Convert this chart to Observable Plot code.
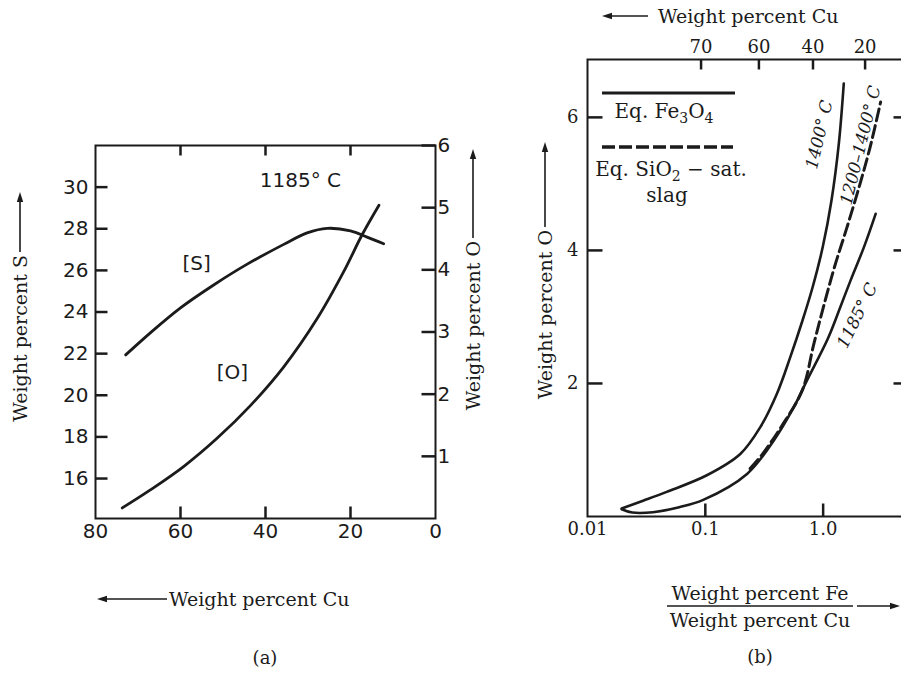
<!DOCTYPE html>
<html>
<head>
<meta charset="utf-8">
<script src="https://cdn.jsdelivr.net/npm/d3@7"></script>
<script src="https://cdn.jsdelivr.net/npm/@observablehq/plot@0.6"></script>
<style>
  html, body { margin: 0; padding: 0; background: #fff; overflow: hidden; }
  #wrap { position: relative; width: 901px; height: 675px; overflow: hidden; background: #fff; }
  #pa { position: absolute; left: 0; top: 0; width: 520px; height: 675px; }
  #pb { position: absolute; left: 520px; top: 0; width: 400px; height: 675px; }
  svg { max-width: none !important; display: block; }
</style>
</head>
<body>
<div id="wrap"><div id="pa"></div><div id="pb"></div></div>
<script>
// ---------------- Panel (a): 1185 °C, S and O vs Cu ----------------
const cuS = [72.9, 67.1, 60.0, 52.2, 44.3, 35.7, 30.2, 25.5, 20.0, 16.1, 12.2];
const sS  = [21.94, 23.0, 24.2, 25.3, 26.3, 27.25, 27.8, 28.02, 27.9, 27.6, 27.28];
const cuO = [73.7, 67.1, 59.2, 51.4, 43.5, 35.7, 27.8, 21.6, 17.3, 13.3];
const oO  = [0.17, 0.46, 0.84, 1.29, 1.82, 2.44, 3.22, 3.97, 4.56, 5.04];
const cuTicksA = [80, 60, 40, 20, 0];
const cuInnerTicksA = [60, 40, 20];
const sTicks = [16, 18, 20, 22, 24, 26, 28, 30];
const oTicksA = [1, 2, 3, 4, 5, 6];
const cuDomainA = [80, 0];
const sDomain = [14.08, 32];
const oDomainA = [0, 6];
const annTextA = ["1185° C", "[S]", "[O]"];
const annCuA = [31.8, 56.2, 47.8];
const annSA = [30.3, 26.35, 21.08];

// ---------------- Panel (b): O vs Fe/Cu ratio ----------------
const r1400 = [0.0195, 0.03, 0.047, 0.103, 0.198, 0.292, 0.406, 0.527, 0.669, 0.815, 0.992, 1.177, 1.358, 1.497];
const o1400 = [0.12, 0.24, 0.37, 0.62, 0.94, 1.34, 1.85, 2.40, 2.95, 3.45, 4.05, 4.75, 5.60, 6.51];
const r1185 = [0.0195, 0.024, 0.036, 0.06, 0.096, 0.226, 0.38, 0.562, 0.731, 1.10, 1.40, 1.71, 2.22, 2.79];
const o1185 = [0.11, 0.06, 0.065, 0.14, 0.25, 0.64, 1.14, 1.64, 2.05, 2.68, 3.15, 3.55, 4.05, 4.55];
const rDash = [0.24, 0.30, 0.445, 0.666, 0.835, 1.006, 1.248, 1.595, 2.017, 2.502, 3.074];
const oDash = [0.72, 0.92, 1.36, 1.90, 2.60, 3.15, 3.75, 4.35, 4.95, 5.55, 6.23];
const ratioDomain = [0.01, 5];
const oDomainB = [0, 6.87];
const ratioTicks = [0.01, 0.1, 1];
const ratioTickLabels = ["0.01", "0.1", "1.0"];
const ratioInnerTicks = [0.1, 1];
const oTicksB = [2, 4, 6];
const cuTopLabels = [70, 60, 40, 20];
const cuTopRatio = [0.092, 0.285, 0.82, 2.27];
const curveLabelsB = ["1400° C", "1200–1400° C", "1185° C"];
const curveLabelRatio = [0.93, 2.08, 1.95];
const curveLabelO = [5.74, 5.58, 3.02];

const ink = "#1b1b1b";
const serif = "'DejaVu Serif', serif";

function arrow(g, x1, y1, x2, y2) {
  const dx = x2 - x1, dy = y2 - y1, len = Math.hypot(dx, dy);
  const ux = dx / len, uy = dy / len, hl = 10, hw = 3.2;
  const bx = x2 - ux * hl, by = y2 - uy * hl;
  g.append("line").attr("x1", x1).attr("y1", y1).attr("x2", bx + ux * 2).attr("y2", by + uy * 2)
    .attr("stroke", ink).attr("stroke-width", 1.6);
  g.append("path")
    .attr("d", `M${x2},${y2}L${bx - uy * hw},${by + ux * hw}L${bx + uy * hw},${by - ux * hw}Z`)
    .attr("fill", ink);
}

// ---------- build panel (a) ----------
const A = {width: 520, height: 675, marginLeft: 95, marginRight: 85, marginTop: 145, marginBottom: 157};
const AW = A.width - A.marginLeft - A.marginRight, AH = A.height - A.marginTop - A.marginBottom;
const pxPerCu = AW / Math.abs(cuDomainA[0] - cuDomainA[1]);
const pxPerS = AH / (sDomain[1] - sDomain[0]);
const oToS = o => sDomain[0] + (o - oDomainA[0]) * (sDomain[1] - sDomain[0]) / (oDomainA[1] - oDomainA[0]);
const sData = cuS.map((c, i) => ({cu: c, v: sS[i]}));
const oData = cuO.map((c, i) => ({cu: c, v: oO[i]}));
const annA = annTextA.map((t, i) => ({t, cu: annCuA[i], s: annSA[i]}));
// inward tick segments (frame-edge value, pixel lengths converted to data units)
const ticksA = [
  ...cuInnerTicksA.map(v => ({x1: v, x2: v, y1: sDomain[0], y2: sDomain[0] + 12 / pxPerS})),
  ...cuInnerTicksA.map(v => ({x1: v, x2: v, y1: sDomain[1], y2: sDomain[1] - 10 / pxPerS})),
  ...sTicks.map(v => ({x1: cuDomainA[0], x2: cuDomainA[0] - 12 / pxPerCu, y1: v, y2: v})),
  ...oTicksA.map(v => ({x1: cuDomainA[1], x2: cuDomainA[1] + 14 / pxPerCu, y1: oToS(v), y2: oToS(v)}))
];

function decorA(index, scales, values, dim) {
  const L = dim.marginLeft, T = dim.marginTop, R = dim.width - dim.marginRight, B = dim.height - dim.marginBottom;
  const g = d3.create("svg:g").attr("fill", ink).attr("font-family", serif).attr("font-size", 19).attr("text-anchor", "start");
  g.append("text").attr("transform", `translate(${L - 75},${T + 110}) rotate(-90)`)
    .attr("text-anchor", "end").attr("dy", "0.35em").text("Weight percent S");
  arrow(g, L - 75, T + 107, L - 75, T + 47);
  g.append("text").attr("transform", `translate(${R + 38},${T + 96}) rotate(-90)`)
    .attr("text-anchor", "end").attr("dy", "0.35em").text("Weight percent O");
  arrow(g, R + 38, T + 93, R + 38, T + 4);
  arrow(g, L + 72, B + 81, L + 2, B + 81);
  g.append("text").attr("x", L + 74).attr("y", B + 81).attr("dy", "0.35em").attr("text-anchor", "start").text("Weight percent Cu");
  g.append("text").attr("x", (L + R) / 2).attr("y", B + 140).attr("dy", "0.35em")
    .attr("text-anchor", "middle").attr("font-size", 18).text("(a)");
  return g.node();
}

const plotA = Plot.plot({
  ...A,
  style: {fontFamily: "'DejaVu Sans', sans-serif", fontSize: "20px", color: ink, background: "white"},
  x: {domain: cuDomainA, axis: null},
  y: {domain: sDomain, axis: null},
  marks: [
    Plot.frame({stroke: ink, strokeWidth: 2, fill: "none"}),
    Plot.link(ticksA, {x1: "x1", y1: "y1", x2: "x2", y2: "y2", stroke: ink, strokeWidth: 2.5}),
    Plot.text(cuTicksA, {x: d => d, text: d => String(d), frameAnchor: "bottom", lineAnchor: "top", dy: 5, fill: ink}),
    Plot.text(sTicks, {y: d => d, text: d => String(d), frameAnchor: "left", textAnchor: "end", dx: -7, fill: ink}),
    Plot.text(oTicksA, {y: d => oToS(d), text: d => String(d), frameAnchor: "right", textAnchor: "start", dx: 2, fill: ink}),
    Plot.line(sData, {x: "cu", y: "v", curve: "catmull-rom", stroke: ink, strokeWidth: 2.8}),
    Plot.line(oData, {x: "cu", y: d => oToS(d.v), curve: "catmull-rom", stroke: ink, strokeWidth: 2.8}),
    Plot.text(annA, {x: "cu", y: "s", text: "t", fontSize: 20, fill: ink}),
    decorA
  ]
});
document.getElementById("pa").appendChild(plotA);

// ---------- build panel (b) ----------
const Bd = {width: 400, height: 675, marginLeft: 67, marginRight: 15, marginTop: 59, marginBottom: 159};
const BW = Bd.width - Bd.marginLeft - Bd.marginRight, BH = Bd.height - Bd.marginTop - Bd.marginBottom;
const pxPerDecade = BW / Math.log10(ratioDomain[1] / ratioDomain[0]);
const pxPerO = BH / (oDomainB[1] - oDomainB[0]);
const d1400 = r1400.map((r, i) => ({r, o: o1400[i]}));
const d1185 = r1185.map((r, i) => ({r, o: o1185[i]}));
const dDash = rDash.map((r, i) => ({r, o: oDash[i]}));
const labB = curveLabelsB.map((t, i) => ({t, r: curveLabelRatio[i], o: curveLabelO[i], a: [-77, -76, -64][i]}));
const ticksB = [
  ...ratioInnerTicks.map(v => ({x1: v, x2: v, y1: oDomainB[0], y2: oDomainB[0] + 13 / pxPerO})),
  ...cuTopRatio.map(v => ({x1: v, x2: v, y1: oDomainB[1], y2: oDomainB[1] - 10 / pxPerO})),
  ...oTicksB.map(v => ({x1: ratioDomain[0], x2: ratioDomain[0] * Math.pow(10, 15 / pxPerDecade), y1: v, y2: v})),
  ...oTicksB.map(v => ({x1: ratioDomain[1], x2: ratioDomain[1] / Math.pow(10, 12 / pxPerDecade), y1: v, y2: v}))
];

function subText(g, x, y, parts, size) {
  const t = g.append("text").attr("x", x).attr("y", y).attr("dy", "0.35em").attr("text-anchor", "middle").attr("font-size", size);
  let shifted = false;
  for (const [s, sub] of parts) {
    const sp = t.append("tspan").text(s);
    if (sub && !shifted) { sp.attr("dy", 5).attr("font-size", size * 0.7); shifted = true; }
    else if (!sub && shifted) { sp.attr("dy", -5); shifted = false; }
    else if (sub) sp.attr("font-size", size * 0.7);
  }
  return t;
}

function decorB(index, scales, values, dim) {
  const L = dim.marginLeft, T = dim.marginTop, B = dim.height - dim.marginBottom;
  const g = d3.create("svg:g").attr("fill", ink).attr("font-family", serif).attr("font-size", 19).attr("text-anchor", "start");
  g.append("text").attr("transform", `translate(${L - 42},${T + 171}) rotate(-90)`)
    .attr("text-anchor", "end").attr("dy", "0.35em").text("Weight percent O");
  arrow(g, L - 42, T + 168, L - 42, T + 83);
  arrow(g, L + 61, T - 43, L + 15, T - 43);
  g.append("text").attr("x", L + 71).attr("y", T - 43).attr("dy", "0.35em").attr("text-anchor", "start").text("Weight percent Cu");
  // legend
  g.append("line").attr("x1", L + 15).attr("x2", L + 148).attr("y1", T + 34).attr("y2", T + 34)
    .attr("stroke", ink).attr("stroke-width", 3);
  subText(g, L + 77, T + 52, [["Eq. Fe", false], ["3", true], ["O", false], ["4", true]], 20);
  g.append("line").attr("x1", L + 15).attr("x2", L + 146).attr("y1", T + 88).attr("y2", T + 88)
    .attr("stroke", ink).attr("stroke-width", 3.5).attr("stroke-dasharray", "13,4");
  subText(g, L + 84, T + 110, [["Eq. SiO", false], ["2", true], [" − sat.", false]], 20);
  g.append("text").attr("x", L + 80).attr("y", T + 136).attr("dy", "0.35em").attr("text-anchor", "middle")
    .attr("font-size", 20).text("slag");
  // fraction x title
  const cx = L + 173;
  g.append("text").attr("x", cx).attr("y", B + 77).attr("dy", "0.35em").attr("text-anchor", "middle").text("Weight percent Fe");
  g.append("line").attr("x1", cx - 93).attr("x2", cx + 93).attr("y1", B + 90).attr("y2", B + 90)
    .attr("stroke", ink).attr("stroke-width", 1.4);
  g.append("text").attr("x", cx).attr("y", B + 104).attr("dy", "0.35em").attr("text-anchor", "middle").text("Weight percent Cu");
  arrow(g, cx + 97, B + 90, cx + 140, B + 90);
  g.append("text").attr("x", cx).attr("y", B + 141).attr("dy", "0.35em")
    .attr("text-anchor", "middle").attr("font-size", 18).text("(b)");
  return g.node();
}

const plotB = Plot.plot({
  ...Bd,
  style: {fontFamily: serif, fontSize: "18px", color: ink, background: "white"},
  x: {type: "log", domain: ratioDomain, axis: null},
  y: {domain: oDomainB, axis: null},
  marks: [
    Plot.frame({stroke: ink, strokeWidth: 2, fill: "none"}),
    Plot.link(ticksB, {x1: "x1", y1: "y1", x2: "x2", y2: "y2", stroke: ink, strokeWidth: 2.5}),
    Plot.text(ratioTicks, {x: d => d, text: (d, i) => ratioTickLabels[i], frameAnchor: "bottom", lineAnchor: "top", dy: 6, fill: ink}),
    Plot.text(cuTopRatio, {x: d => d, text: (d, i) => String(cuTopLabels[i]), frameAnchor: "top", lineAnchor: "bottom", dy: -7, fill: ink}),
    Plot.text(oTicksB, {y: d => d, text: d => String(d), frameAnchor: "left", textAnchor: "end", dx: -9, fill: ink}),
    Plot.line(d1400, {x: "r", y: "o", curve: "catmull-rom", stroke: ink, strokeWidth: 2.6}),
    Plot.line(d1185, {x: "r", y: "o", curve: "catmull-rom", stroke: ink, strokeWidth: 2.6}),
    Plot.line(dDash, {x: "r", y: "o", curve: "catmull-rom", stroke: ink, strokeWidth: 3, strokeDasharray: "12,5"}),
    Plot.text(labB, {x: "r", y: "o", text: "t", rotate: d => d.a, fontSize: 17, fontStyle: "italic", fill: ink}),
    decorB
  ]
});
document.getElementById("pb").appendChild(plotB);
</script>
</body>
</html>
